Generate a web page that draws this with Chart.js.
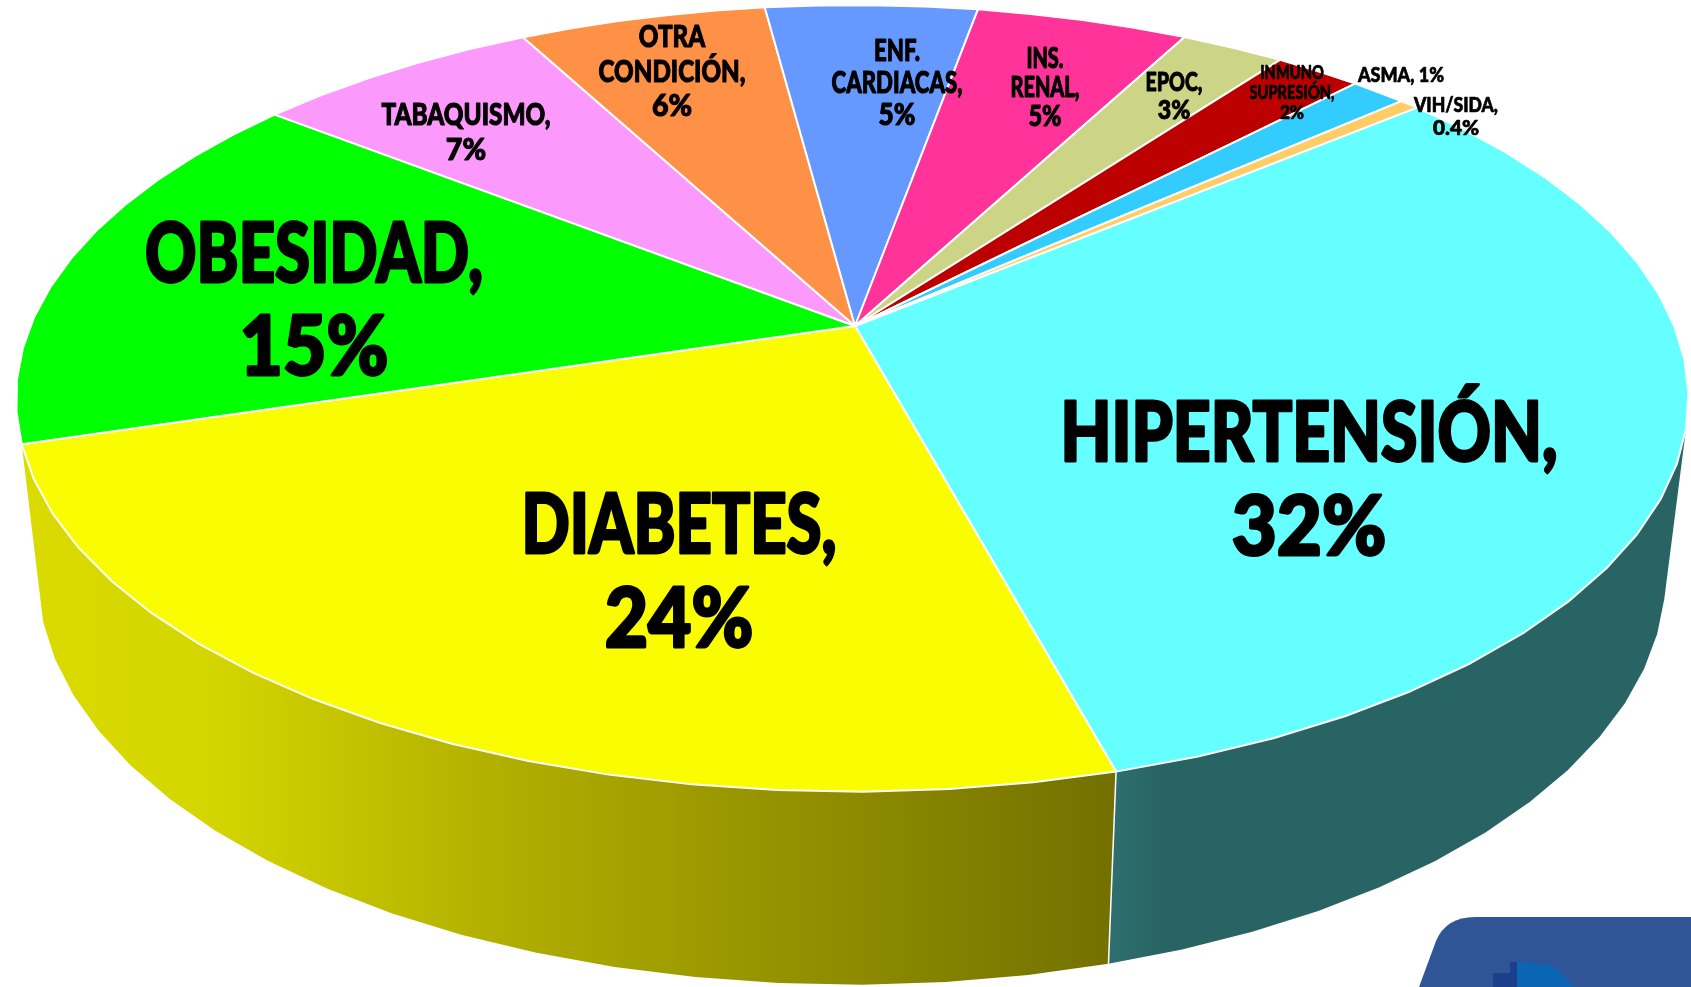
<!DOCTYPE html>
<html><head><meta charset="utf-8">
<script src="https://cdn.jsdelivr.net/npm/chart.js@4"></script>
<style>html,body{margin:0;padding:0;background:#fff;overflow:hidden}canvas{display:block}</style>
</head><body><canvas id="c" width="1691" height="987"></canvas>
<script>
const categories = ["HIPERTENSIÓN","DIABETES","OBESIDAD","TABAQUISMO","OTRA CONDICIÓN","ENF. CARDIACAS","INS. RENAL","EPOC","INMUNO SUPRESIÓN","ASMA","VIH/SIDA"];
const shares = [31.86,24.5,15.39,6.6,5.7,4.9,4.9,2.4,2,1.3,0.45];
const percentText = ["32%","24%","15%","7%","6%","5%","5%","3%","2%","1%","0.4%"];
const sliceColors = ["#66FFFF","#FAFD00","#00FF00","#FC99FC","#FF9147","#6699FF","#FF3399","#CCD585","#BC0000","#33CCFF","#FFCC66"];

// Label placement (page pixels): centre x, first-line centre y, line step, font size, width of the widest line
const labelLayout = [
 {x:1309,y:431,step:94,size:82,w:497},
 {x:679,y:523,step:94,size:82,w:315},
 {x:314,y:252,step:93,size:82,w:338},
 {x:466,y:114,step:35,size:31,w:169},
 {x:672,y:36,step:34.5,size:31,w:147},
 {x:897,y:50,step:32,size:30,w:131},
 {x:1045,y:58,step:29,size:28,w:69},
 {x:1174,y:82,step:28,size:26,w:57},
 {x:1292,y:72,step:20,size:19,w:85},
 {x:1401,y:75,step:0,size:20,w:86,single:true},
 {x:1456,y:105,step:22.5,size:20,w:84}
];

// Projection of the unit pie plane onto the page
const P = {cx:855,cy:326,a:822,b:380,k:0.184};
function face(ang){const u=Math.cos(ang),v=Math.sin(ang),w=1-P.k*v;const shift=-2.7-2.2*Math.min(v,0);return [P.cx+shift+P.a*u/w,P.cy+P.b*v/w];}
function base(ang){const p=face(ang),v=Math.sin(ang);return [p[0]-(p[0]-830)*0.0266,p[1]+172+21*v];}
const DEG=Math.PI/180, STEP=5*DEG;
function rim(a0,a1,fn){const n=Math.max(1,Math.ceil((a1-a0)/STEP)),o=[];for(let i=0;i<=n;i++)o.push(fn(a0+(a1-a0)*i/n));return o;}
function trace(ctx,pts){pts.forEach((p,i)=>i?ctx.lineTo(p[0],p[1]):ctx.moveTo(p[0],p[1]));}

// Right-hand silhouette of the wall: tangent on the top rim joined straight to the lower rim
const TANGENT=15*DEG, LOWER=14*DEG;
const wallFills = {
 0:{x0:1116,x1:1160,stops:[[0,"#2E6E6E"],[1,"#296464"]],from:TANGENT,baseFrom:LOWER},
 1:{x0:22,x1:1116,stops:[[0,"#DBDB00"],[0.18,"#D4D400"],[0.45,"#AFAD00"],[1,"#737000"]]}
};

const piePlugin={id:'pie3d',beforeDatasetsDraw(chart){
 const ctx=chart.ctx,meta=chart.getDatasetMeta(0),arcs=meta.data,colors=chart.data.datasets[0].backgroundColor;
 ctx.save();ctx.lineJoin='round';
 Object.keys(wallFills).forEach(k=>{
  const arc=arcs[k],f=wallFills[k];
  const a0=f.from===undefined?arc.startAngle:f.from, b0=f.baseFrom===undefined?a0:f.baseFrom;
  const top=rim(a0,arc.endAngle,face),bot=rim(b0,arc.endAngle,base).reverse();
  const g=ctx.createLinearGradient(f.x0,0,f.x1,0);f.stops.forEach(s=>g.addColorStop(s[0],s[1]));
  ctx.beginPath();trace(ctx,top.concat(bot));ctx.closePath();ctx.fillStyle=g;ctx.fill();
 });
 const edge=arcs[0].endAngle,e0=face(edge),e1=base(edge);
 ctx.beginPath();ctx.moveTo(e0[0],e0[1]);ctx.lineTo(e1[0],e1[1]);ctx.strokeStyle='#fff';ctx.lineWidth=1.5;ctx.stroke();
 arcs.forEach((arc,i)=>{
  ctx.beginPath();ctx.moveTo(P.cx,P.cy);rim(arc.startAngle,arc.endAngle,face).forEach(p=>ctx.lineTo(p[0],p[1]));ctx.closePath();
  ctx.fillStyle=colors[i];ctx.fill();ctx.strokeStyle='#fff';ctx.lineWidth=2;ctx.stroke();
 });
 ctx.restore();
 drawBadge(ctx);
 drawLabels(ctx);
 return false;
}};

function drawBadge(ctx){
 ctx.save();
 ctx.beginPath();ctx.moveTo(1419,987);ctx.lineTo(1436,941);ctx.quadraticCurveTo(1446,917,1475,917);ctx.lineTo(1691,917);ctx.lineTo(1691,987);ctx.closePath();
 ctx.fillStyle='#2F5597';ctx.fill();
 ctx.beginPath();ctx.moveTo(1493,987);ctx.lineTo(1493,973);ctx.lineTo(1510,973);ctx.lineTo(1510,962);ctx.lineTo(1518,962);ctx.lineTo(1518,987);ctx.closePath();
 ctx.fillStyle='#1C3F8C';ctx.fill();
 ctx.beginPath();ctx.moveTo(1517,962);ctx.lineTo(1552,965);ctx.lineTo(1575,987);ctx.lineTo(1517,987);ctx.closePath();
 ctx.fillStyle='#0A66B5';ctx.fill();
 ctx.restore();
}

function drawLabels(ctx){
 const FONT='Lato,"Liberation Sans Narrow",sans-serif';
 categories.forEach((name,i)=>{
  const L=labelLayout[i];
  let lines;
  if(L.single) lines=[name+", "+percentText[i]];
  else{const parts=name.split(" ");parts[parts.length-1]+=",";lines=parts.concat(percentText[i]);}
  ctx.save();
  ctx.font='900 '+L.size+'px '+FONT;ctx.textAlign='center';ctx.textBaseline='alphabetic';ctx.fillStyle='#000';
  ctx.strokeStyle='#000';ctx.lineJoin='round';ctx.lineWidth=L.size*0.035;
  const widest=Math.max(...lines.map(t=>ctx.measureText(t).width));
  const sx=L.w/widest;
  lines.forEach((t,j)=>{
   const stretch=(!L.single&&j===lines.length-1)?1.18:1;
   ctx.save();ctx.translate(L.x,L.y+j*L.step+L.size*0.36);ctx.scale(sx*stretch,1);
   ctx.fillText(t,0,0);ctx.strokeText(t,0,0);ctx.restore();
  });
  ctx.restore();
 });
}

new Chart(document.getElementById('c'),{
 type:'pie',
 data:{labels:categories,datasets:[{data:shares,backgroundColor:sliceColors}]},
 options:{responsive:false,animation:false,rotation:50,
  plugins:{legend:{display:false},tooltip:{enabled:false}}},
 plugins:[piePlugin]
});
</script></body></html>
